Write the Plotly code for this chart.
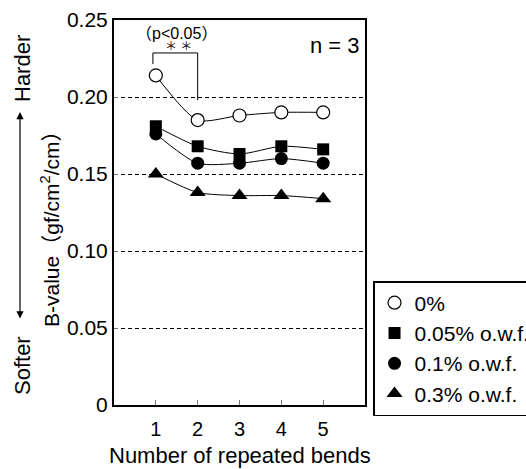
import plotly.graph_objects as go

bends = [1, 2, 3, 4, 5]
b_0 = [0.214, 0.185, 0.188, 0.190, 0.190]
b_005 = [0.181, 0.168, 0.163, 0.168, 0.166]
b_01 = [0.176, 0.157, 0.157, 0.160, 0.157]
b_03 = [0.150, 0.138, 0.136, 0.136, 0.134]

series_names = ["0%", "0.05% o.w.f.", "0.1% o.w.f.", "0.3% o.w.f."]
y_tickvals = [0, 0.05, 0.10, 0.15, 0.20, 0.25]
y_ticktext = ["0", "0.05", "0.10", "0.15", "0.20", "0.25"]

# significance bracket (between bend 1 and bend 2)
bracket_x = [0.93, 0.93, 2.0, 2.0]
bracket_y = [0.2214, 0.2286, 0.2286, 0.198]

FONT = "Liberation Sans, Arial, Noto Sans CJK JP, sans-serif"

styles = [
    dict(symbol="circle", color="white", line=dict(color="black", width=1.2), size=13),
    dict(symbol="square", color="black", line=dict(color="black", width=0), size=12),
    dict(symbol="circle", color="black", line=dict(color="black", width=0), size=13),
    dict(symbol="triangle-up", color="black", line=dict(color="black", width=0), size=14),
]
data = [b_0, b_005, b_01, b_03]

fig = go.Figure()
for i in [3, 2, 1, 0]:
    fig.add_trace(go.Scatter(
        x=bends, y=data[i], mode="lines+markers",
        line=dict(color="black", width=1, shape="spline", smoothing=0.7),
        marker=styles[i], showlegend=False, hoverinfo="skip"))

for i in range(4):
    fig.add_trace(go.Scatter(
        x=[None], y=[None], mode="markers", name=series_names[i],
        marker=styles[i], legendgroup=f"g{i}", showlegend=True))

fig.add_trace(go.Scatter(
    x=bracket_x, y=bracket_y, mode="lines",
    line=dict(color="black", width=1), showlegend=False, hoverinfo="skip"))

fig.update_layout(
    width=526, height=469,
    margin=dict(l=114, r=161, t=20, b=64, autoexpand=False),
    paper_bgcolor="white", plot_bgcolor="white",
    font=dict(family=FONT, size=20, color="black"),
    legend=dict(x=1.032, y=0.322, xanchor="left", yanchor="top",
                bordercolor="black", borderwidth=1.5,
                font=dict(size=21), tracegroupgap=0,
                bgcolor="white"),
    xaxis=dict(range=[0, 6], tickvals=bends, ticktext=[str(b) for b in bends],
               showline=True, linecolor="black", linewidth=2, mirror=True,
               ticks="inside", ticklen=5, tickcolor="#777", tickwidth=1,
               showgrid=False, zeroline=False, ticklabelstandoff=5,
               tickfont=dict(size=20)),
    yaxis=dict(range=[0, 0.25], tickvals=y_tickvals, ticktext=y_ticktext,
               showline=True, linecolor="black", linewidth=2, mirror=True,
               ticks="inside", ticklen=4, tickcolor="#777", tickwidth=1,
               showgrid=True, gridcolor="black", gridwidth=1, griddash="4px,3px",
               zeroline=False, tickfont=dict(size=21)),
)

annos = [
    dict(text="Number of repeated bends", x=0.5, y=(405 - 455) / 385, xanchor="center", yanchor="middle", font=dict(size=22)),
    dict(text="B-value（gf/cm<sup>2</sup>/cm）", x=(50 - 114) / 251, y=(405 - 224) / 385, xanchor="center", yanchor="middle", textangle=-90, font=dict(size=21)),
    dict(text="n = 3", x=0.988, y=0.935, xanchor="right", yanchor="middle", font=dict(size=22)),
    dict(text="（p<0.05）", x=(176 - 114) / 251, y=(405 - 33) / 385, xanchor="center", yanchor="middle", font=dict(size=16)),
    dict(text="＊ ＊", x=(178 - 114) / 251, y=(405 - 47) / 385, xanchor="center", yanchor="middle", font=dict(size=12)),
    dict(text="Harder", x=(22 - 114) / 251, y=(405 - 69) / 385, xanchor="center", yanchor="middle", textangle=-90, font=dict(size=22)),
    dict(text="Softer", x=(22 - 114) / 251, y=(405 - 366) / 385, xanchor="center", yanchor="middle", textangle=-90, font=dict(size=22)),
]
for a in annos:
    fig.add_annotation(xref="paper", yref="paper", showarrow=False, **a)

fig.add_annotation(xref="paper", yref="paper", x=(20 - 114) / 251, y=(405 - 112) / 385,
                   ax=0, ay=208, text="", showarrow=True, arrowhead=2, arrowsize=1.2,
                   arrowwidth=1.2, arrowside="end+start", arrowcolor="black")

fig.write_html("out.html", config={"displayModeBar": False},
               post_script="document.body.style.margin='0';")
